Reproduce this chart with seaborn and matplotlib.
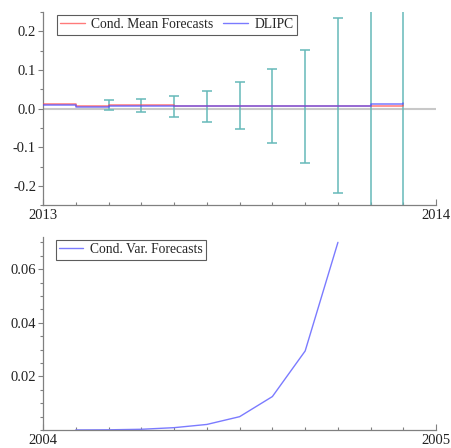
import numpy as np
import pandas as pd
import matplotlib
matplotlib.use("Agg")
import matplotlib.pyplot as plt
import seaborn as sns
from matplotlib.ticker import MultipleLocator, FixedLocator

# ---- data ----
months = [0, 1, 2, 3, 4, 5, 6, 7, 8, 9, 10, 11]
cond_mean = [0.011, 0.008, 0.009, 0.009, 0.008, 0.007, 0.007, 0.007, 0.007, 0.007, 0.008, 0.010]
dlipc = [0.010, 0.005, 0.008, 0.008, 0.007, 0.008, 0.008, 0.008, 0.008, 0.008, 0.012, 0.014]

err_months = [2, 3, 4, 5, 6, 7, 8, 9, 10, 11]
err_center = [0.0088, 0.0078, 0.006, 0.006, 0.008, 0.007, 0.006, 0.008, 0.008, 0.009]
err_half = [0.0128, 0.017, 0.028, 0.040, 0.062, 0.096, 0.147, 0.226, 0.34, 0.51]

var_months = [1, 2, 3, 4, 5, 6, 7, 8, 9]
cond_var = [0.00005, 0.0001, 0.0003, 0.0009, 0.0021, 0.005, 0.0125, 0.0295, 0.070]

top_years = [2013, 2014]
bot_years = [2004, 2005]

# ---- style ----
sns.set_theme(style="ticks")
plt.rcParams["font.family"] = ["Liberation Serif", "DejaVu Serif"]
plt.rcParams["font.size"] = 10.5

fig = plt.figure(figsize=(4.51, 4.48), dpi=100)
ax1 = fig.add_axes([0.0953, 0.542, 0.872, 0.431])
ax2 = fig.add_axes([0.0953, 0.040, 0.872, 0.431])

spine_col = "#808080"

def style_axes(ax):
    for s in ["top", "right"]:
        ax.spines[s].set_visible(False)
    for s in ["left", "bottom"]:
        ax.spines[s].set_color(spine_col)
        ax.spines[s].set_linewidth(0.9)
    ax.tick_params(axis="y", which="both", direction="out", colors=spine_col,
                   labelcolor="#222222", labelsize=10.5, width=0.8, pad=1.5)
    ax.tick_params(axis="y", which="major", length=3.5)
    ax.tick_params(axis="y", which="minor", length=2.2)
    ax.tick_params(axis="x", which="both", direction="in", colors=spine_col,
                   labelcolor="#222222", labelsize=10.5, width=0.8, pad=3)
    ax.tick_params(axis="x", which="major", length=4)
    ax.tick_params(axis="x", which="minor", length=2.5)

def style_legend(leg):
    leg.get_frame().set_edgecolor("#333333")
    leg.get_frame().set_linewidth(0.8)
    for line in leg.get_lines():
        line.set_linewidth(1.0)

# ---- top panel ----
y0 = top_years[0]
df_top = pd.DataFrame({
    "x": [y0 + m / 12 for m in months] * 2,
    "y": cond_mean + dlipc,
    "series": ["Cond. Mean Forecasts"] * len(months) + ["DLIPC"] * len(months),
})
ax1.axhline(0, color="#c8c8c8", lw=1.5, zorder=1)
ex = [y0 + m / 12 for m in err_months]
ax1.errorbar(ex, err_center, yerr=err_half, fmt="none", ecolor="#66b9b9",
             elinewidth=1.1, capsize=3.3, capthick=1.1, zorder=2)
sns.lineplot(data=df_top, x="x", y="y", hue="series",
             palette={"Cond. Mean Forecasts": "#ff4d4d", "DLIPC": "#4d4dff"},
             ax=ax1, drawstyle="steps-post", lw=1.1, alpha=0.75, zorder=3,
             legend=True)
ax1.set_xlim(top_years[0], top_years[1])
ax1.set_ylim(-0.25, 0.25)
ax1.xaxis.set_major_locator(FixedLocator(top_years))
ax1.xaxis.set_minor_locator(MultipleLocator(1 / 12))
ax1.set_xticklabels([str(v) for v in top_years])
ax1.yaxis.set_major_locator(FixedLocator([-0.2, -0.1, 0.0, 0.1, 0.2]))
ax1.set_yticklabels(["-0.2", "-0.1", "0.0", "0.1", "0.2"])
ax1.yaxis.set_minor_locator(MultipleLocator(0.05))
ax1.set_xlabel("")
ax1.set_ylabel("")
style_axes(ax1)
leg1 = ax1.legend(loc="upper left", ncol=2, frameon=True, fancybox=False,
                  fontsize=9.8, handlelength=1.8, columnspacing=0.7,
                  borderpad=0.25, handletextpad=0.5, borderaxespad=0.2,
                  bbox_to_anchor=(0.028, 1.0))
style_legend(leg1)

# ---- bottom panel ----
b0 = bot_years[0]
df_bot = pd.DataFrame({"x": [b0 + m / 12 for m in var_months], "y": cond_var,
                       "series": ["Cond. Var. Forecasts"] * len(var_months)})
sns.lineplot(data=df_bot, x="x", y="y", hue="series",
             palette={"Cond. Var. Forecasts": "#7b7bff"}, ax=ax2, lw=1.0)
ax2.set_xlim(bot_years[0], bot_years[1])
ax2.set_ylim(0, 0.072)
ax2.xaxis.set_major_locator(FixedLocator(bot_years))
ax2.xaxis.set_minor_locator(MultipleLocator(1 / 12))
ax2.set_xticklabels([str(v) for v in bot_years])
ax2.yaxis.set_major_locator(FixedLocator([0.02, 0.04, 0.06]))
ax2.set_yticklabels(["0.02", "0.04", "0.06"])
ax2.yaxis.set_minor_locator(MultipleLocator(0.005))
ax2.set_xlabel("")
ax2.set_ylabel("")
style_axes(ax2)
leg2 = ax2.legend(loc="upper left", frameon=True, fancybox=False,
                  fontsize=9.8, handlelength=1.8, borderpad=0.25,
                  handletextpad=0.5, borderaxespad=0.2,
                  bbox_to_anchor=(0.025, 1.0))
style_legend(leg2)

fig.savefig("out.png", dpi=100)
